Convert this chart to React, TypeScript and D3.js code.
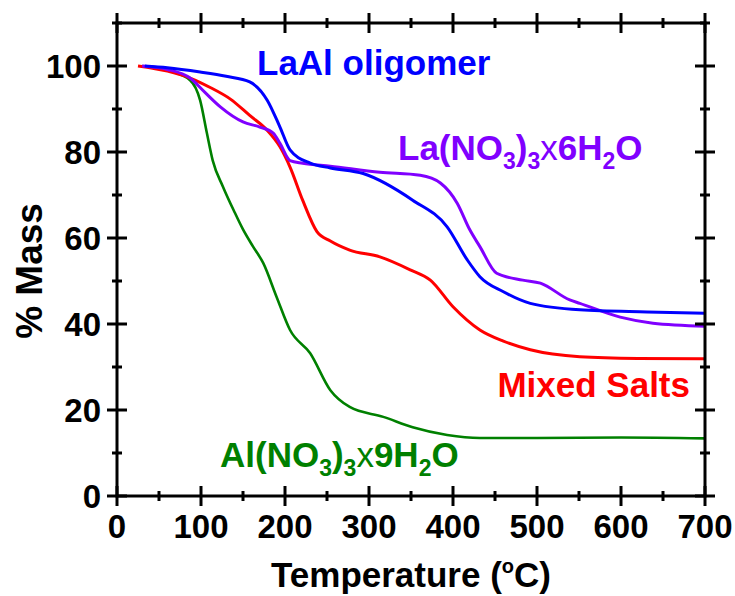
import * as d3 from 'd3';
import React from 'react';

// TGA curves (temperature in C, % mass)
const laAlTemp = [33, 60, 99, 130, 158, 179, 194, 206, 230, 254, 293, 352, 393, 417, 432, 460, 492, 551, 631, 700];
const laAlMass = [100, 99.6, 98.6, 97.6, 96.3, 92, 85.8, 80.5, 77.4, 76.3, 75, 68.8, 62.6, 54.9, 51, 47.5, 44.8, 43.3, 42.8, 42.5];

const laNitTemp = [30, 60, 87, 105, 123, 150, 170, 186, 194, 206, 221, 254, 313, 361, 385, 405, 420, 432, 452, 483, 504, 539, 551, 599, 638, 700];
const laNitMass = [100, 99.2, 97.2, 93.8, 90.5, 87, 85.8, 84.4, 82, 78, 77.4, 76.7, 75.3, 74.6, 72.8, 68.1, 61.9, 58, 51.8, 50.2, 49.5, 45.6, 44.8, 41.6, 40.2, 39.5];

const mixedTemp = [25, 60, 87, 111, 135, 158, 179, 194, 206, 221, 238, 254, 277, 313, 349, 373, 400, 432, 460, 492, 551, 620, 700];
const mixedMass = [100, 98.8, 97.2, 95, 92.3, 88.5, 85, 81.2, 76.5, 68.8, 61.5, 59.3, 57.2, 55.6, 52.6, 50.2, 44, 38.6, 36, 34, 32.4, 32, 31.9];

const alNitTemp = [30, 60, 87, 99, 107, 114, 126, 140, 150, 162, 174, 190, 206, 230, 254, 277, 317, 352, 393, 432, 500, 600, 700];
const alNitMass = [100, 99, 96.7, 92, 84.4, 78, 72, 66, 62, 58, 54.2, 46.3, 38.6, 33.2, 24.6, 20.7, 18.4, 16, 14.2, 13.5, 13.5, 13.6, 13.4];

const xMajor = [0, 100, 200, 300, 400, 500, 600, 700];
const xMinor = [50, 150, 250, 350, 450, 550, 650];
const yMajor = [0, 20, 40, 60, 80, 100];
const yMinor = [10, 30, 50, 70, 90, 110];

const FONT = 'Liberation Sans, Arial, sans-serif';

export default function App() {
  const x = d3.scaleLinear().domain([0, 700]).range([117, 705]);
  const y = d3.scaleLinear().domain([0, 110]).range([496, 23]);

  const line = d3.line<[number, number]>()
    .x(d => x(d[0]))
    .y(d => y(d[1]))
    .curve(d3.curveMonotoneX);

  const series = [
    { t: alNitTemp, m: alNitMass, color: '#008000', w: 2.6 },
    { t: mixedTemp, m: mixedMass, color: '#ff0000', w: 3 },
    { t: laNitTemp, m: laNitMass, color: '#8000ff', w: 3 },
    { t: laAlTemp, m: laAlMass, color: '#0000ff', w: 3 },
  ];

  const x0 = x(0), x1 = x(700), y0 = y(0), y1 = y(110);

  return (
    <svg width={735} height={596} style={{ position: 'absolute', left: 0, top: 0 }}>
      <rect width={735} height={596} fill="#fff" />
      {series.map((s, i) => (
        <path key={i} d={line(s.t.map((t, j) => [t, s.m[j]] as [number, number])) || ''}
          fill="none" stroke={s.color} strokeWidth={s.w} strokeLinejoin="round" />
      ))}
      <g stroke="#000" strokeWidth={3}>
        <rect x={x0} y={y1} width={x1 - x0} height={y0 - y1} fill="none" />
        {xMajor.map(v => (
          <g key={'xm' + v}>
            <line x1={x(v)} x2={x(v)} y1={y0 - 10} y2={y0 + 10} />
            <line x1={x(v)} x2={x(v)} y1={y1 - 10} y2={y1 + 10} />
          </g>
        ))}
        {xMinor.map(v => (
          <g key={'xn' + v}>
            <line x1={x(v)} x2={x(v)} y1={y0 - 5} y2={y0 + 5} />
            <line x1={x(v)} x2={x(v)} y1={y1 - 5} y2={y1 + 5} />
          </g>
        ))}
        {yMajor.map(v => (
          <g key={'ym' + v}>
            <line x1={x0 - 10} x2={x0 + 10} y1={y(v)} y2={y(v)} />
            <line x1={x1 - 10} x2={x1 + 10} y1={y(v)} y2={y(v)} />
          </g>
        ))}
        {yMinor.map(v => (
          <g key={'yn' + v}>
            <line x1={x0 - 5} x2={x0 + 5} y1={y(v)} y2={y(v)} />
            <line x1={x1 - 5} x2={x1 + 5} y1={y(v)} y2={y(v)} />
          </g>
        ))}
      </g>
      <g fontFamily={FONT} fontWeight="bold" fontSize={33} fill="#000">
        {xMajor.map(v => (
          <text key={'xl' + v} x={x(v)} y={538} textAnchor="middle">{v}</text>
        ))}
        {yMajor.map(v => (
          <text key={'yl' + v} x={101} y={y(v) + 12} textAnchor="end">{v}</text>
        ))}
      </g>
      <text x={411} y={587} textAnchor="middle" fontFamily={FONT} fontWeight="bold" fontSize={35}>
        Temperature (<tspan fontSize={20} dy={-14}>o</tspan><tspan dy={14}>C)</tspan>
      </text>
      <text transform="translate(42,271) rotate(-90)" textAnchor="middle" fontFamily={FONT} fontWeight="bold" fontSize={37}>
        % Mass
      </text>
      <g fontFamily={FONT} fontWeight="bold" fontSize={35}>
        <text x={257} y={75} fill="#0000ff">LaAl oligomer</text>
        <text x={398} y={160} fill="#8000ff">
          La(NO<tspan fontSize={23} dy={9}>3</tspan><tspan dy={-9}>)</tspan><tspan fontSize={23} dy={9}>3</tspan><tspan dy={-9} fontWeight="normal">x</tspan>6H<tspan fontSize={23} dy={9}>2</tspan><tspan dy={-9}>O</tspan>
        </text>
        <text x={690} y={397} textAnchor="end" fill="#ff0000">Mixed Salts</text>
        <text x={220} y={467} fill="#008000">
          Al(NO<tspan fontSize={23} dy={9}>3</tspan><tspan dy={-9}>)</tspan><tspan fontSize={23} dy={9}>3</tspan><tspan dy={-9} fontWeight="normal">x</tspan>9H<tspan fontSize={23} dy={9}>2</tspan><tspan dy={-9}>O</tspan>
        </text>
      </g>
    </svg>
  );
}
